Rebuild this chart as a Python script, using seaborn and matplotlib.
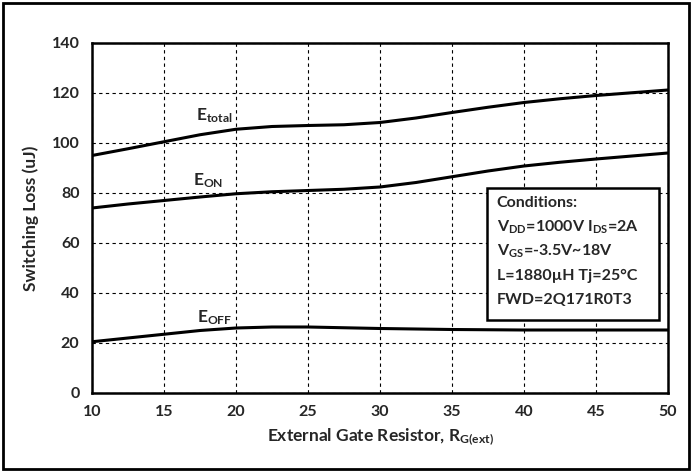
import numpy as np
import pandas as pd
import matplotlib
matplotlib.use("Agg")
import matplotlib.pyplot as plt
import seaborn as sns
from matplotlib.patches import Rectangle

# ---- data ----
rg = [10, 12.5, 15, 17.5, 20, 22.5, 25, 27.5, 30, 32.5, 35, 37.5, 40, 42.5, 45, 47.5, 50]
e_total = [95, 97.7, 100.5, 103.3, 105.5, 106.6, 107, 107.3, 108.2, 110, 112.2, 114.3, 116.2, 117.7, 119, 120.1, 121.2]
e_on = [74, 75.6, 77, 78.4, 79.7, 80.5, 81, 81.5, 82.4, 84.2, 86.5, 88.8, 90.8, 92.3, 93.6, 94.8, 96]
e_off = [20.5, 22, 23.5, 25, 26, 26.4, 26.4, 26.1, 25.8, 25.6, 25.4, 25.3, 25.2, 25.2, 25.2, 25.2, 25.2]
series_names = ["E_total", "E_ON", "E_OFF"]
x_ticks = [10, 15, 20, 25, 30, 35, 40, 45, 50]
y_ticks = [0, 20, 40, 60, 80, 100, 120, 140]
conditions = [
    "Conditions:",
    r"V$_{\mathbf{DD}}$=1000V I$_{\mathbf{DS}}$=2A",
    r"V$_{\mathbf{GS}}$=-3.5V~18V",
    "L=1880µH Tj=25°C",
    "FWD=2Q171R0T3",
]

df = pd.concat([
    pd.DataFrame({"Rg": rg, "E": vals, "series": name})
    for name, vals in zip(series_names, [e_total, e_on, e_off])
])

sns.set_style("white")
plt.rcParams["font.family"] = ["Lato", "DejaVu Sans"]
plt.rcParams["mathtext.fontset"] = "custom"
plt.rcParams["mathtext.rm"] = "Lato:weight=bold"
plt.rcParams["mathtext.bf"] = "Lato:weight=bold"
plt.rcParams["mathtext.it"] = "Lato:weight=bold"
plt.rcParams["mathtext.default"] = "bf"

fig = plt.figure(figsize=(6.92, 4.72), dpi=100)
ax = fig.add_axes([92/692, 1-393/472, (668-92)/692, (393-43)/472])

sns.lineplot(data=df, x="Rg", y="E", units="series", estimator=None,
             color="black", linewidth=2.2, ax=ax, legend=False)

ax.set_xlim(10, 50)
ax.set_ylim(0, 140)
ax.set_xticks(x_ticks)
ax.set_yticks(y_ticks)
ax.set_xticklabels([str(v) for v in x_ticks], fontweight="bold", fontsize=11.5)
ax.set_yticklabels([str(v) for v in y_ticks], fontweight="bold", fontsize=11.5)
ax.tick_params(length=0, pad=9)
ax.grid(True, color="black", linestyle=(0, (3, 3)), linewidth=0.8)
for s in ax.spines.values():
    s.set_color("black")
    s.set_linewidth(1.8)

ax.set_xlabel(r"External Gate Resistor, R$_{\mathbf{G(ext)}}$", fontweight="bold", fontsize=12.5, labelpad=5)
ax.set_ylabel("Switching Loss (uJ)", fontweight="bold", fontsize=12.5, labelpad=9)

# curve labels
ax.text(17.2, 111, r"E$_{\mathbf{total}}$", fontweight="bold", fontsize=12.5, va="center", ha="left")
ax.text(17.0, 85, r"E$_{\mathbf{ON}}$", fontweight="bold", fontsize=12.5, va="center", ha="left")
ax.text(17.3, 30, r"E$_{\mathbf{OFF}}$", fontweight="bold", fontsize=12.5, va="center", ha="left")

# conditions box
box = Rectangle((37.4, 29.2), 12.0, 52.8, transform=ax.transData,
                facecolor="white", edgecolor="black", linewidth=1.8, zorder=5)
ax.add_patch(box)
ys = [76, 66.2, 56.6, 47, 37.4]
for t, yv in zip(conditions, ys):
    ax.text(38.1, yv, t, fontweight="bold", fontsize=11.5, va="center", ha="left", zorder=6)

# outer border
fig.patches.append(Rectangle((3/692, 3/472), 686/692, 466/472, transform=fig.transFigure,
                             fill=False, edgecolor="black", linewidth=2.0))

fig.savefig("out.png", dpi=100)
